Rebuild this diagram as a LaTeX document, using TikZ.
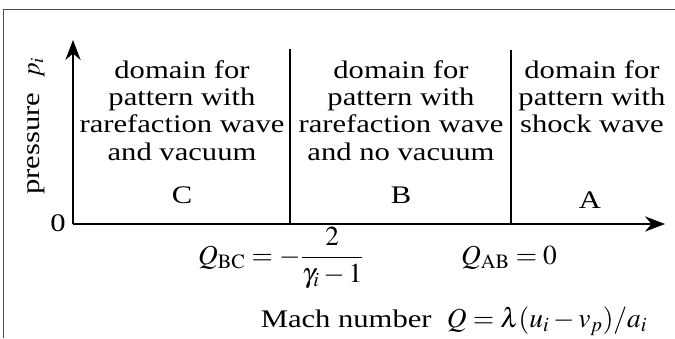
\documentclass[tikz,border=0pt]{standalone}
\usepackage{mathptmx}
\usepackage{fontspec}
\setmainfont{Liberation Serif}[FakeStretch=1.21]
\usepackage{tikz}
\usetikzlibrary{arrows.meta, positioning}

\begin{document}
\begin{tikzpicture}[
    every node/.style={inner sep=0pt, font=\fontsize{18}{19.5}\selectfont},
    frame/.style={draw=black!70, line width=0.6pt},
    axis/.style={-{Stealth[length=0.5cm, width=0.38cm]}, line width=1.3pt},
    border/.style={line width=1.3pt},
    domaintext/.style={align=center, anchor=north},
    region/.style={anchor=center},
    formula/.style={anchor=base, font=\fontsize{19.5}{21}\selectfont}
]
\useasboundingbox (0,0) rectangle (16.875,8.45);

% Frame
\draw[frame] (0.075,0) |- (16.875,8.225);

% Axes
\coordinate (origin) at (1.825,2.85);
\coordinate (ytip) at (1.825,7.45);
\coordinate (xtip) at (16.625,2.85);
\draw[axis] (origin) -- (ytip);
\draw[axis] (origin) -- (xtip);

\node (zero) at (1.45,2.875) {0};
\node[rotate=90] (pressure) at (0.9,5.3) {pressure\ \ $p_i$};

% Borders between the domains
\coordinate (bcbot) at (7.25,2.85);
\coordinate (bctop) at (7.25,7.22);
\coordinate (abbot) at (12.775,2.85);
\coordinate (abtop) at (12.775,7.2);
\draw[border] (bcbot) -- (bctop);
\draw[border] (abbot) -- (abtop);

% Domains
\node[domaintext] (domC) at (4.55,6.95) {domain for\\pattern with\\rarefaction wave\\and vacuum};
\node[domaintext] (domB) at (10.025,6.95) {domain for\\pattern with\\rarefaction wave\\and no vacuum};
\node[domaintext] (domA) at (14.8,6.95) {domain for\\pattern with\\shock wave};

\node[region] (C) at (4.55,3.575) {C};
\node[region] (B) at (10.025,3.575) {B};
\node[region] (A) at (14.75,3.45) {A};

% Limits and abscissa
\node[formula] (qbc) at (7.025,1.85) {$\displaystyle Q_{\mathrm{BC}} = -\frac{2}{\gamma_i - 1}$};
\node[formula] (qab) at (12.725,1.85) {$Q_{\mathrm{AB}} = 0$};
\node[formula, font=\fontsize{18}{19.5}\selectfont] (mach) at (11.35,0.27) {Mach number\ \ {\fontsize{19.5}{21}\selectfont$Q = \lambda(u_i - v_p)/a_i$}};

\end{tikzpicture}
\end{document}
